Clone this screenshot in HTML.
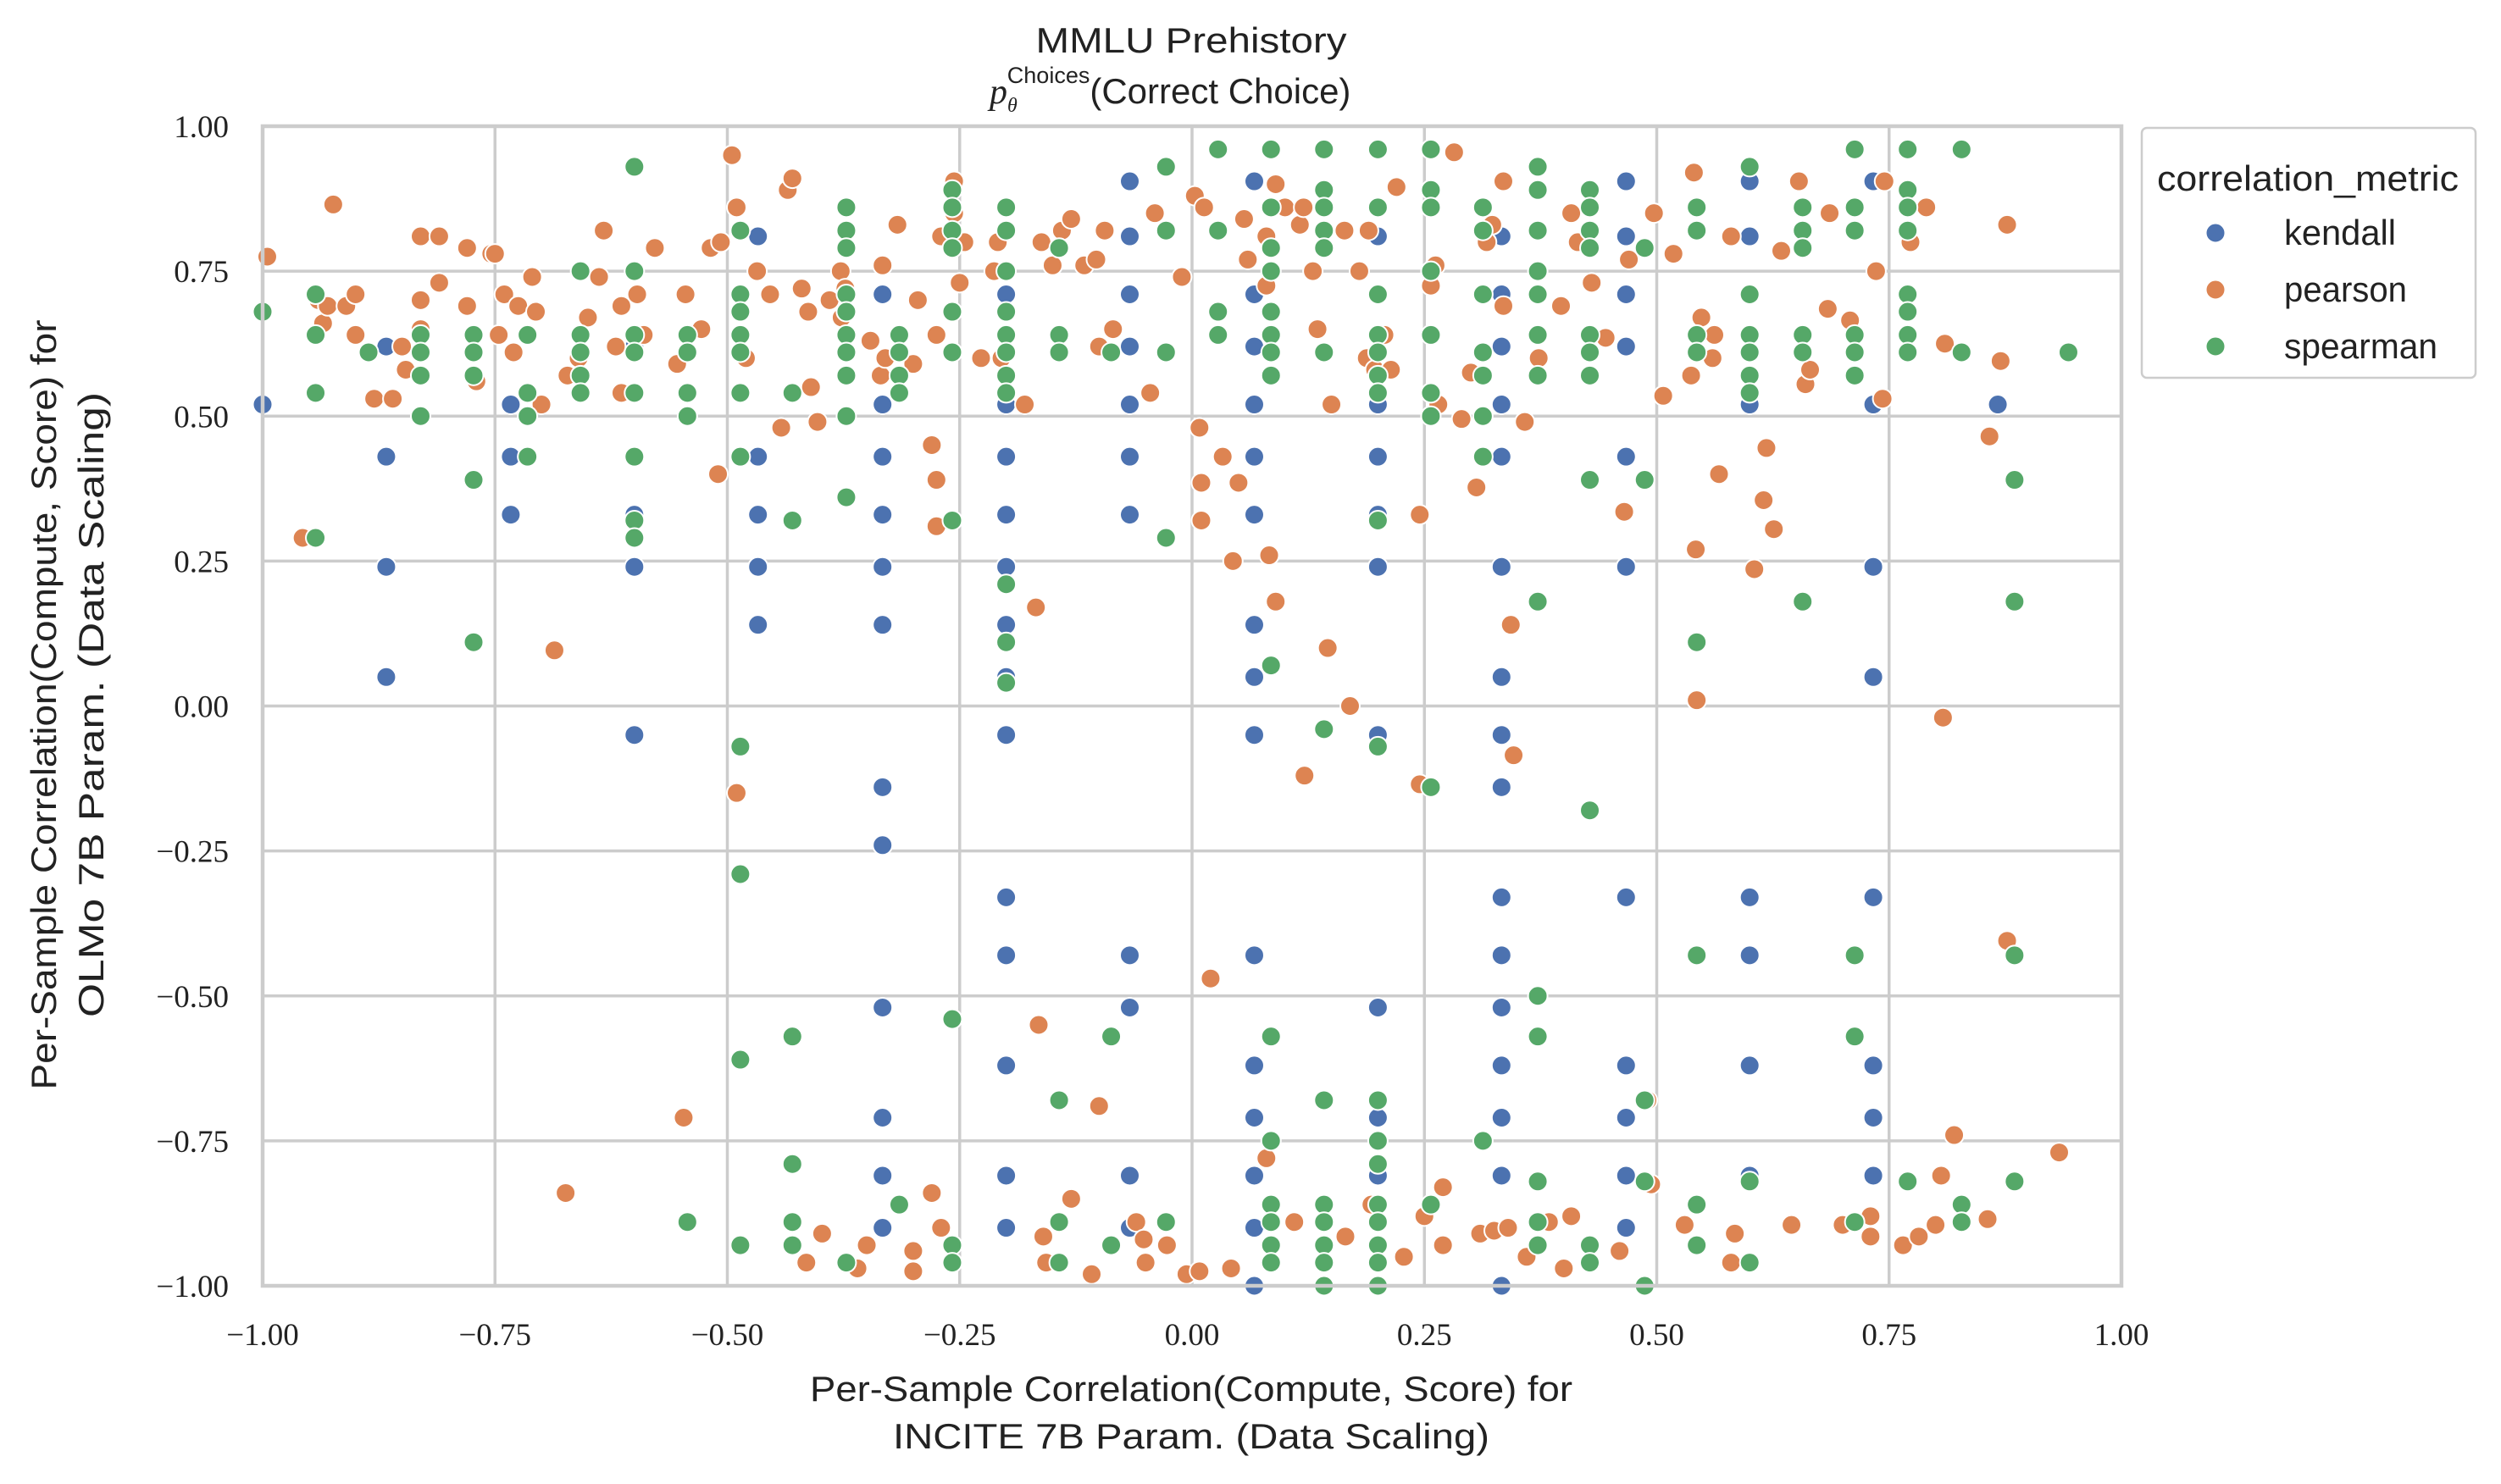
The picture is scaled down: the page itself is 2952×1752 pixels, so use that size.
<!DOCTYPE html>
<html><head><meta charset="utf-8">
<style>
html,body{margin:0;padding:0;background:#fff;}
svg{display:block;}
.tick{font-family:"Liberation Serif",serif;font-size:37px;fill:#222;}
.lab{font-family:"Liberation Sans",sans-serif;font-size:42px;fill:#222;}
</style></head>
<body>
<svg id="chart" width="2952" height="1752" viewBox="0 0 2952 1752" xmlns="http://www.w3.org/2000/svg">
<g id="grid"></g>
<g id="points"></g>
<g id="axes"></g>
<text class="lab" x="1406" y="62" text-anchor="middle" textLength="367" lengthAdjust="spacingAndGlyphs">MMLU Prehistory</text>
<text class="lab" x="1168" y="122"><tspan font-family="Liberation Serif" font-style="italic">p</tspan><tspan font-size="24" dy="10" font-family="Liberation Serif" font-style="italic">θ</tspan><tspan font-size="27" dy="-34" dx="-12">Choices</tspan><tspan dy="24">(Correct Choice)</tspan></text>
<text class="lab" x="1406" y="1654" text-anchor="middle" textLength="900" lengthAdjust="spacingAndGlyphs">Per-Sample Correlation(Compute, Score) for</text>
<text class="lab" x="1406" y="1710" text-anchor="middle" textLength="704" lengthAdjust="spacingAndGlyphs">INCITE 7B Param. (Data Scaling)</text>
<g transform="translate(66,832) rotate(-90)">
<text class="lab" x="0" y="0" text-anchor="middle" textLength="909" lengthAdjust="spacingAndGlyphs">Per-Sample Correlation(Compute, Score) for</text>
<text class="lab" x="0" y="56" text-anchor="middle" textLength="738" lengthAdjust="spacingAndGlyphs">OLMo 7B Param. (Data Scaling)</text>
</g>
<g id="legend">
<rect x="2528" y="151" width="394" height="295" rx="6" fill="#fff" stroke="#cccccc" stroke-width="2.5"/>
<text class="lab" x="2724" y="225" text-anchor="middle" textLength="356" lengthAdjust="spacingAndGlyphs">correlation_metric</text>
</g>
</svg>
<script>
const xTicks=[-1,-0.75,-0.5,-0.25,0,0.25,0.5,0.75,1];
const yTicks=[-1,-0.75,-0.5,-0.25,0,0.25,0.5,0.75,1];
const seriesNames=["kendall","pearson","spearman"];
const seriesColors=["#4c72b0","#dd8452","#55a868"];
const kendallX=[-1,-0.867,-0.733,-0.6,-0.467,-0.333,-0.2,-0.067,0.067,0.2,0.333,0.467,0.6,0.733,0.867];
const kendallY=[
[0.52],
[0.62,0.43,0.24,0.05],
[0.52,0.43,0.33],
[0.33,0.24,-0.05,0.62],
[0.81,0.43,0.33,0.24,0.14],
[0.71,0.52,0.43,0.33,0.24,0.14,-0.14,-0.24,-0.52,-0.71,-0.81,-0.9],
[0.71,0.52,0.43,0.33,0.24,0.14,0.05,-0.05,-0.33,-0.43,-0.62,-0.81,-0.9],
[0.905,0.81,0.71,0.62,0.52,0.43,0.33,-0.43,-0.52,-0.81,-0.9],
[0.905,0.71,0.62,0.52,0.43,0.33,0.14,0.05,-0.05,-0.43,-0.62,-0.71,-0.81,-0.9,-1],
[0.81,0.71,0.52,0.43,0.33,0.24,-0.05,-0.52,-0.71,-0.81],
[0.81,0.71,0.62,0.52,0.43,0.24,0.05,-0.05,-0.14,-0.33,-0.43,-0.52,-0.62,-0.71,-0.81,-1],
[0.905,0.81,0.71,0.62,0.43,0.24,-0.33,-0.62,-0.71,-0.81,-0.9],
[0.905,0.81,0.52,-0.33,-0.43,-0.62,-0.81],
[0.905,0.52,0.24,0.05,-0.33,-0.62,-0.71,-0.81],
[0.52]];
const pearsonX=[-0.995,-0.957,-0.94,-0.935,-0.93,-0.924,-0.91,-0.9,-0.9,-0.88,-0.86,-0.85,-0.846,-0.83,-0.81,-0.83,-0.83,-0.81,-0.78,-0.754,-0.78,-0.77,-0.75,-0.74,-0.746,-0.73,-0.725,-0.71,-0.706,-0.7,-0.686,-0.674,-0.672,-0.66,-0.65,-0.638,-0.633,-0.62,-0.614,-0.614,-0.597,-0.59,-0.578,-0.554,-0.545,-0.547,-0.528,-0.518,-0.507,-0.51,-0.495,-0.49,-0.49,-0.48,-0.468,-0.454,-0.442,-0.435,-0.43,-0.42,-0.413,-0.41,-0.403,-0.415,-0.398,-0.39,-0.378,-0.377,-0.373,-0.36,-0.35,-0.346,-0.335,-0.33,-0.333,-0.317,-0.3,-0.295,-0.3,-0.3,-0.28,-0.27,-0.275,-0.275,-0.28,-0.275,-0.27,-0.256,-0.256,-0.25,-0.245,-0.227,-0.213,-0.209,-0.205,-0.18,-0.168,-0.165,-0.162,-0.16,-0.157,-0.15,-0.14,-0.13,-0.13,-0.116,-0.103,-0.1,-0.108,-0.1,-0.094,-0.085,-0.06,-0.052,-0.05,-0.045,-0.04,-0.027,-0.027,-0.011,-0.006,0.008,0.003,0.013,0.008,0.01,0.01,0.02,0.033,0.042,0.044,0.05,0.056,0.06,0.08,0.08,0.083,0.09,0.08,0.09,0.1,0.11,0.116,0.12,0.121,0.13,0.135,0.146,0.15,0.164,0.165,0.17,0.18,0.188,0.19,0.193,0.197,0.207,0.214,0.22,0.228,0.245,0.245,0.25,0.257,0.262,0.265,0.27,0.27,0.282,0.29,0.3,0.306,0.31,0.317,0.323,0.325,0.335,0.335,0.346,0.343,0.34,0.358,0.36,0.373,0.384,0.397,0.4,0.408,0.408,0.415,0.43,0.428,0.445,0.46,0.465,0.47,0.49,0.494,0.497,0.507,0.518,0.53,0.537,0.54,0.542,0.543,0.548,0.562,0.56,0.567,0.58,0.58,0.584,0.605,0.615,0.618,0.626,0.634,0.645,0.653,0.66,0.665,0.684,0.686,0.7,0.708,0.73,0.73,0.736,0.743,0.745,0.765,0.773,0.782,0.79,0.8,0.806,0.808,0.81,0.82,0.856,0.858,0.87,0.877,0.877,0.933];
const pearsonY=[0.775,0.29,0.70,0.66,0.69,0.865,0.69,0.71,0.64,0.53,0.53,0.62,0.58,0.81,0.81,0.70,0.65,0.73,0.79,0.78,0.69,0.56,0.78,0.71,0.64,0.61,0.69,0.74,0.68,0.52,0.096,-0.84,0.57,0.6,0.67,0.74,0.82,0.62,0.54,0.69,0.71,0.64,0.79,0.59,0.71,-0.71,0.65,0.79,0.80,0.40,0.95,0.86,-0.15,0.60,0.75,0.71,0.48,0.89,0.91,0.72,0.68,0.55,0.49,-0.96,-0.91,0.70,0.75,0.67,0.72,-0.97,-0.93,0.63,0.57,0.60,0.76,0.83,0.59,0.70,-0.94,-0.975,-0.84,-0.90,0.31,0.39,0.45,0.64,0.81,0.85,0.905,0.73,0.80,0.60,0.75,0.80,0.60,0.52,0.17,-0.55,0.80,-0.915,-0.96,0.76,0.82,0.84,-0.85,0.76,0.77,-0.69,-0.98,0.62,0.82,0.65,-0.89,-0.92,-0.96,0.54,0.85,0.93,-0.93,0.74,-0.98,-0.975,0.88,0.86,0.48,0.385,0.32,-0.47,0.43,-0.97,0.25,0.385,0.84,0.77,0.81,0.725,0.26,0.18,-0.78,0.90,0.86,-0.89,0.83,0.86,-0.12,0.75,0.65,0.10,0.52,0.82,-0.915,0.0,0.75,0.60,0.82,-0.86,0.58,0.64,0.58,0.895,-0.95,0.33,-0.135,-0.88,0.725,0.76,0.52,-0.83,-0.93,0.955,0.495,0.575,0.377,-0.91,0.80,0.83,-0.905,0.905,0.69,-0.085,0.14,-0.9,0.49,-0.95,0.60,-0.89,0.69,-0.97,0.85,-0.88,0.80,0.73,-0.93,0.635,-0.94,0.335,0.77,-0.68,-0.825,0.85,0.535,0.78,-0.895,0.57,0.92,0.27,0.01,0.67,0.64,0.60,0.40,0.81,-0.96,-0.91,0.236,0.355,0.445,0.305,0.785,-0.895,0.905,0.555,0.58,0.685,0.85,-0.895,0.665,-0.915,-0.88,0.75,0.53,0.905,-0.93,0.80,-0.915,0.86,-0.895,-0.81,-0.02,0.625,-0.74,-0.885,0.465,0.595,0.83,-0.405,-0.77];
const spearmanX=[-1,-0.943,-0.886,-0.83,-0.773,-0.715,-0.658,-0.6,-0.543,-0.486,-0.43,-0.372,-0.315,-0.258,-0.2,-0.143,-0.087,-0.028,0.028,0.085,0.142,0.2,0.257,0.313,0.372,0.428,0.487,0.543,0.6,0.657,0.713,0.77,0.828,0.885,0.943];
const spearmanY=[
[0.68],
[0.71,0.64,0.54,0.29],
[0.61],
[0.64,0.61,0.57,0.50],
[0.64,0.61,0.57,0.39,0.11],
[0.64,0.54,0.50,0.43],
[0.75,0.64,0.61,0.57,0.54],
[0.93,0.75,0.64,0.61,0.54,0.43,0.32,0.29],
[0.64,0.61,0.54,0.50,-0.89],
[0.82,0.71,0.68,0.64,0.61,0.54,0.43,-0.07,-0.29,-0.61,-0.93],
[0.54,0.32,-0.57,-0.79,-0.89,-0.93],
[0.86,0.82,0.79,0.71,0.68,0.64,0.61,0.57,0.50,0.36,-0.96],
[0.64,0.61,0.57,0.54,-0.86],
[0.89,0.86,0.82,0.79,0.68,0.61,0.32,-0.54,-0.93,-0.96],
[0.86,0.82,0.75,0.68,0.64,0.61,0.57,0.54,0.21,0.11,0.04],
[0.79,0.64,0.61,-0.68,-0.89,-0.96],
[0.61,-0.57,-0.93],
[0.93,0.82,0.61,0.29,-0.89],
[0.96,0.82,0.68,0.64],
[0.96,0.86,0.79,0.75,0.68,0.64,0.61,0.57,0.07,-0.57,-0.75,-0.86,-0.89,-0.93,-0.96],
[0.96,0.89,0.86,0.82,0.79,0.61,-0.04,-0.68,-0.86,-0.89,-0.93,-0.96,-1],
[0.96,0.86,0.71,0.64,0.61,0.57,0.54,0.32,-0.07,-0.68,-0.75,-0.79,-0.86,-0.89,-0.93,-0.96,-1],
[0.96,0.89,0.86,0.75,0.64,0.54,0.50,-0.14,-0.86],
[0.86,0.82,0.71,0.61,0.57,0.50,0.43,-0.75],
[0.93,0.89,0.82,0.75,0.71,0.64,0.57,0.18,-0.50,-0.57,-0.82,-0.89,-0.93],
[0.89,0.86,0.82,0.79,0.64,0.61,0.57,0.39,-0.18,-0.93,-0.96],
[0.79,0.39,-0.68,-0.82,-1],
[0.86,0.82,0.64,0.61,0.11,-0.43,-0.86,-0.93],
[0.93,0.71,0.64,0.61,0.57,0.54,-0.82,-0.96],
[0.86,0.82,0.79,0.64,0.61,0.18],
[0.96,0.86,0.82,0.64,0.61,0.57,-0.43,-0.57,-0.89],
[0.96,0.89,0.86,0.82,0.71,0.68,0.64,0.61,-0.82],
[0.96,0.61,-0.86,-0.89],
[0.39,0.18,-0.43,-0.82],
[0.61]];

const L=310,R=2504,T=149,B=1518;
const NS="http://www.w3.org/2000/svg";
function sx(v){return L+(v+1)/2*(R-L);}
function sy(v){return B-(v+1)/2*(B-T);}
function mk(tag,attrs,parent){const e=document.createElementNS(NS,tag);for(const k in attrs)e.setAttribute(k,attrs[k]);parent.appendChild(e);return e;}
function fmt(v){const s=Math.abs(v).toFixed(2);return (v<0?"\u2212":"")+s;}
const grid=document.getElementById('grid'),axes=document.getElementById('axes'),pts=document.getElementById('points');
xTicks.forEach(t=>{
  const l=mk('line',{x1:sx(t),x2:sx(t),y1:T,y2:B,stroke:'#cccccc','stroke-width':3.5},grid);
  
  
  const tx=mk('text',{x:sx(t),y:1588,'text-anchor':'middle',class:'tick'},axes);
  tx.textContent=fmt(t);
  
  
});
yTicks.forEach(t=>{
  const l=mk('line',{x1:L,x2:R,y1:sy(t),y2:sy(t),stroke:'#cccccc','stroke-width':3.5},grid);
  
  
  const tx=mk('text',{x:270,y:sy(t)+13,'text-anchor':'end',class:'tick'},axes);
  tx.textContent=fmt(t);
  
  
});
const frame=mk('rect',{x:L,y:T,width:R-L,height:B-T,fill:'none',stroke:'#cccccc','stroke-width':4.5},axes);


function dot(x,y,c,name){
  const d=mk('circle',{cx:sx(x),cy:sy(y),r:11.5,fill:c,stroke:'#fff','stroke-width':2},pts);
  
  
}
kendallX.forEach((x,i)=>kendallY[i].forEach(y=>dot(x,y,seriesColors[0],'kendall-point')));
pearsonX.forEach((x,i)=>dot(x,pearsonY[i],seriesColors[1],'pearson-point'));
spearmanX.forEach((x,i)=>spearmanY[i].forEach(y=>dot(x,y,seriesColors[2],'spearman-point')));
const leg=document.getElementById('legend');
const legW=[132,145,181];
seriesNames.forEach((n,i)=>{
  const y=275+i*67;
  const c=mk('circle',{cx:2615,cy:y,r:11.5,fill:seriesColors[i],stroke:'#fff','stroke-width':2},leg);
  
  
  const t=mk('text',{x:2696,y:y+14,class:'lab',textLength:legW[i],lengthAdjust:'spacingAndGlyphs'},leg);
  t.textContent=n;
  
  
});
</script>
</body></html>
